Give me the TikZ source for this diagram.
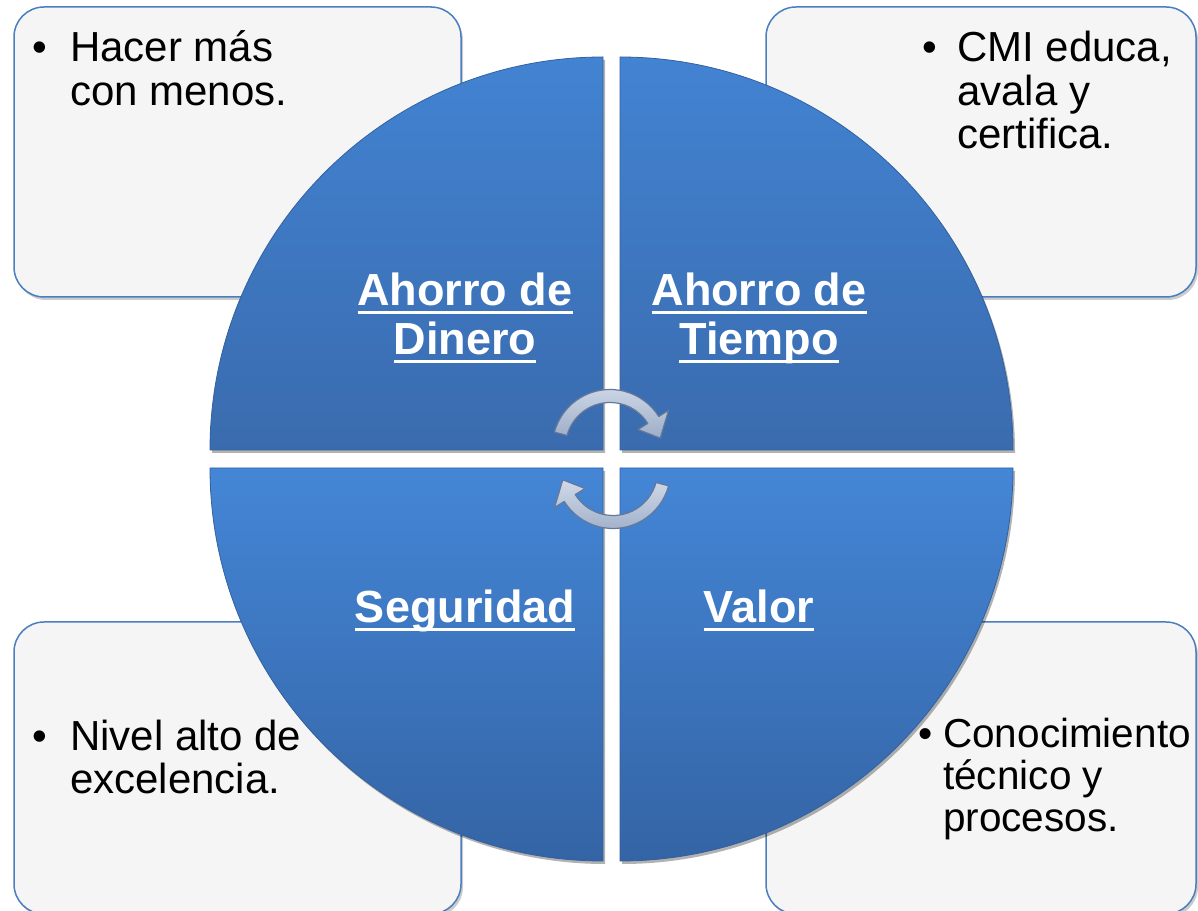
\documentclass[tikz,border=0pt]{standalone}
\usepackage{fontspec}
\setmainfont{Liberation Sans}
\usetikzlibrary{shadows}
\definecolor{boxfill}{HTML}{F5F5F5}
\definecolor{boxline}{HTML}{4A7EBE}
\definecolor{qtoptop}{HTML}{4283D2}
\definecolor{qtopbot}{HTML}{3A6BAE}
\definecolor{qbottop}{HTML}{4486D6}
\definecolor{qbotbot}{HTML}{3464A5}
\definecolor{qedge}{HTML}{32619F}
\definecolor{arrowedge}{HTML}{66789A}
\definecolor{arrowlight}{HTML}{D0D9E8}
\definecolor{arrowmid}{HTML}{9DAEC8}
\newsavebox\ulbox
\newcommand{\ulx}[1]{\sbox\ulbox{#1}\rlap{\rule[-8.5pt]{\wd\ulbox}{3.2pt}}\usebox\ulbox}
\newcommand{\ctrline}[1]{\hbox to 0pt{\hss#1\hss}}
\tikzset{
  infobox/.style={fill=boxfill, draw=boxline, line width=1.5pt, rounded corners=30pt,
    drop shadow={shadow xshift=2pt, shadow yshift=-3pt, opacity=0.2, fill=black}},
  quadtop/.style={top color=qtoptop, bottom color=qtopbot, draw=qedge, line width=0.8pt,
    drop shadow={shadow xshift=2pt, shadow yshift=-3pt, opacity=0.3, fill=black}},
  quadbot/.style={top color=qbottop, bottom color=qbotbot, draw=qedge, line width=0.8pt,
    drop shadow={shadow xshift=2pt, shadow yshift=-3pt, opacity=0.3, fill=black}},
  lbl/.style={font=\fontsize{45}{49}\selectfont\bfseries, text=white, inner sep=0pt, anchor=base},
  body/.style={font=\fontsize{42}{43.5}\selectfont, text=black, inner sep=0pt},
  smallbody/.style={font=\fontsize{40.5}{42}\selectfont, text=black, inner sep=0pt},
  cyclearrow/.style={top color=arrowlight, bottom color=arrowmid, draw=arrowedge, line width=1.2pt, line join=round},
}
\begin{document}
\begin{tikzpicture}[x=1pt,y=1pt]
\useasboundingbox (0,0) rectangle (1198,910);
\fill[white] (0,0) rectangle (1198,910);

% corner boxes
\path[infobox] (14,613) rectangle (461,903);
\path[infobox] (766,613) rectangle (1196,903);
\path[infobox] (14,-4) rectangle (461,288);
\path[infobox] (766,-4) rectangle (1196,288);

% quadrants
\path[quadtop] (603,460) -- (210,460) arc[start angle=180, end angle=90, radius=393] -- cycle;
\path[quadtop] (620,460) -- (620,853) arc[start angle=90, end angle=0, radius=393] -- cycle;
\path[quadbot] (603,442) -- (210,442) arc[start angle=180, end angle=270, radius=393] -- cycle;
\path[quadbot] (620,442) -- (620,49) arc[start angle=270, end angle=360, radius=393] -- cycle;

% cycle arrows
\begin{scope}[shift={(610,463)}]
\path[cyclearrow] (165:44.5) -- (165:57.5) arc[start angle=165, end angle=32, radius=57.5]
  -- (32:69) -- (10:51) -- (32:33) -- (32:44.5) arc[start angle=32, end angle=165, radius=44.5] -- cycle;
\end{scope}
\begin{scope}[shift={(613,439)}]
\path[cyclearrow] (-15:44.5) -- (-15:57.5) arc[start angle=-15, end angle=-148, radius=57.5]
  -- (-148:69) -- (-170:51) -- (-148:33) -- (-148:44.5) arc[start angle=-148, end angle=-15, radius=44.5] -- cycle;
\end{scope}

% quadrant labels
\node[lbl] (dinero) at (465,604) {\vtop{\ctrline{\ulx{Ahorro de}}\ctrline{\ulx{Dinero}}}};
\node[lbl] (tiempo) at (759,604) {\vtop{\ctrline{\ulx{Ahorro de}}\ctrline{\ulx{Tiempo}}}};
\node[lbl] (seguridad) at (465,287) {\ulx{Seguridad}};
\node[lbl] (valor) at (759,287) {\ulx{Valor}};

% box texts
\node[body, anchor=base] (tlb) at (40,848) {•};
\node[body, anchor=base west] (tlt) at (70,848) {\vtop{\hbox{Hacer más}\hbox{con menos.}}};
\node[body, anchor=base] (trb) at (930,848) {•};
\node[body, anchor=base west] (trt) at (957,848) {\vtop{\hbox{CMI educa,}\hbox{avala y}\hbox{certifica.}}};
\node[body, anchor=base] (blb) at (40,160) {•};
\node[body, anchor=base west] (blt) at (70,160) {\vtop{\hbox{Nivel alto de}\hbox{excelencia.}}};
\node[smallbody, anchor=base] (brb) at (926,163) {•};
\node[smallbody, anchor=base west] (brt) at (943,163) {\vtop{\hbox{Conocimiento}\hbox{técnico y}\hbox{procesos.}}};
\end{tikzpicture}
\end{document}
